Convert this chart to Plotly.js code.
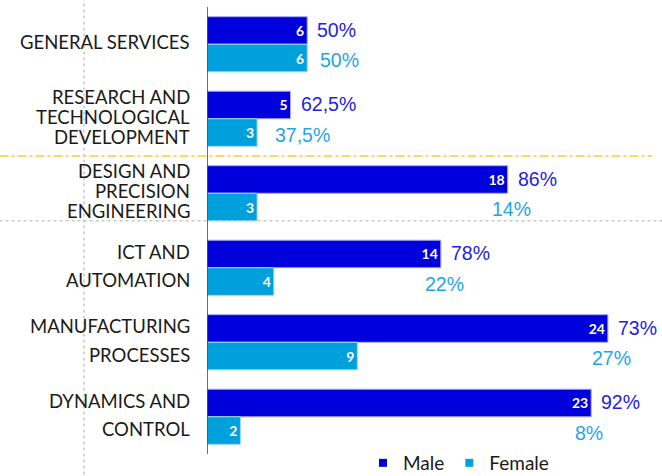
<!DOCTYPE html>
<html>
<head>
<meta charset="utf-8">
<script src="https://cdn.plot.ly/plotly-3.0.1.min.js"></script>
<style>html,body{margin:0;padding:0;background:#fff}#chart{width:662px;height:476px}</style>
</head>
<body>
<div id="chart"></div>
<script>
var categories = ["GENERAL SERVICES", "RESEARCH AND<br>TECHNOLOGICAL<br>DEVELOPMENT", "DESIGN AND<br>PRECISION<br>ENGINEERING", "ICT AND<br>AUTOMATION", "MANUFACTURING<br>PROCESSES", "DYNAMICS AND<br>CONTROL"];
var male = [6, 5, 18, 14, 24, 23];
var female = [6, 3, 3, 4, 9, 2];
var malePct = ["50%", "62,5%", "86%", "78%", "73%", "92%"];
var femalePct = ["50%", "37,5%", "14%", "22%", "27%", "8%"];
var seriesNames = ["Male", "Female"];

var MALE_C = "#0000DC", FEMALE_C = "#00A0DC";
var MALE_T = "#2222DD", FEMALE_T = "#1FA6E2";
var pxPerUnit = 451 / 27;

var traces = [
  {type: "bar", orientation: "h", name: seriesNames[0], y: categories, x: male, showlegend: false,
   text: male.map(String), textposition: "inside", insidetextanchor: "end",
   textfont: {family: "Lato", size: 14, color: "#fff", weight: "bold"},
   marker: {color: MALE_C, line: {color: "#a8a8f4", width: 1}}},
  {type: "bar", orientation: "h", name: seriesNames[1], y: categories, x: female, showlegend: false,
   text: female.map(String), textposition: "inside", insidetextanchor: "end",
   textfont: {family: "Lato", size: 14, color: "#fff", weight: "bold"},
   marker: {color: FEMALE_C, line: {color: "#9cd8f2", width: 1}}},
  {type: "scatter", mode: "markers", name: seriesNames[0], x: [null], y: [null], showlegend: true,
   marker: {symbol: "square", size: 8, color: MALE_C}},
  {type: "scatter", mode: "markers", name: seriesNames[1], x: [null], y: [null], showlegend: true,
   marker: {symbol: "square", size: 8, color: FEMALE_C}}
];

var annotations = [];
categories.forEach(function (c, i) {
  var lines = c.split("<br>");
  var n = lines.length;
  var sp = n === 2 ? 28.5 : 20;
  lines.forEach(function (ln, j) {
    annotations.push({xref: "paper", x: 0, xanchor: "right", xshift: -16,
      yref: "y", y: i, yanchor: "middle", yshift: -((j - (n - 1) / 2) * sp) + 2,
      height: 18, borderpad: 0, valign: "middle",
      text: ln, showarrow: false, font: {family: "Lato", size: 18.5, color: "#1a1a1a"}});
  });
  annotations.push({xref: "x", x: male[i], xanchor: "left", xshift: 8,
    yref: "y", y: i, yanchor: "middle", yshift: 14.5,
    text: malePct[i], showarrow: false, font: {family: "Liberation Sans", size: 19.5, color: MALE_T}});
  var fx = Math.max(male[i] - 18 / pxPerUnit, female[i] + 11 / pxPerUnit);
  annotations.push({xref: "x", x: fx, xanchor: "left", xshift: 0,
    yref: "y", y: i, yanchor: "middle", yshift: -16,
    text: femalePct[i], showarrow: false, font: {family: "Liberation Sans", size: 19.5, color: FEMALE_T}});
});

var shapes = [
  {type: "line", xref: "paper", x0: -0.2727, x1: -0.2727, yref: "paper", y0: 1.02, y1: -0.01,
   line: {color: "#c8c8c8", width: 1.5, dash: "dot"}, layer: "below"},
  {type: "line", xref: "paper", x0: -0.46, x1: 0.987, yref: "y", y0: 1.5, y1: 1.5,
   line: {color: "#ffc83c", width: 1.5, dash: "dashdot"}, layer: "below"},
  {type: "line", xref: "paper", x0: -0.46, x1: 1.01, yref: "y", y0: 2.37, y1: 2.37,
   line: {color: "#c8c8c8", width: 1.5, dash: "dot"}, layer: "below"},
  {type: "line", xref: "x", x0: 0, x1: 0, yref: "y", y0: -0.5, y1: 5.5,
   line: {color: "#404040", width: 1.5}, layer: "above"}
];

var layout = {
  width: 662, height: 476,
  margin: {l: 207, r: 4, t: 7, b: 0, autoexpand: false},
  paper_bgcolor: "#fff", plot_bgcolor: "#fff",
  barmode: "group", bargap: 0.26, bargroupgap: 0,
  showlegend: true,
  legend: {orientation: "h", x: (363 - 207) / 451, xanchor: "left", y: (476 - 463) / 469, yanchor: "middle",
    font: {family: "Lato", size: 19, color: "#1a1a1a"}, bgcolor: "rgba(0,0,0,0)",
    traceorder: "normal"},
  xaxis: {range: [0, 27], showgrid: false, zeroline: false, showline: false, showticklabels: false, ticks: ""},
  yaxis: {type: "category", range: [5.795, -0.5], showgrid: false, zeroline: false, showline: false,
    showticklabels: false, ticks: ""},
  annotations: annotations,
  shapes: shapes
};

Plotly.newPlot("chart", traces, layout, {staticPlot: true, displayModeBar: false});
</script>
</body>
</html>
